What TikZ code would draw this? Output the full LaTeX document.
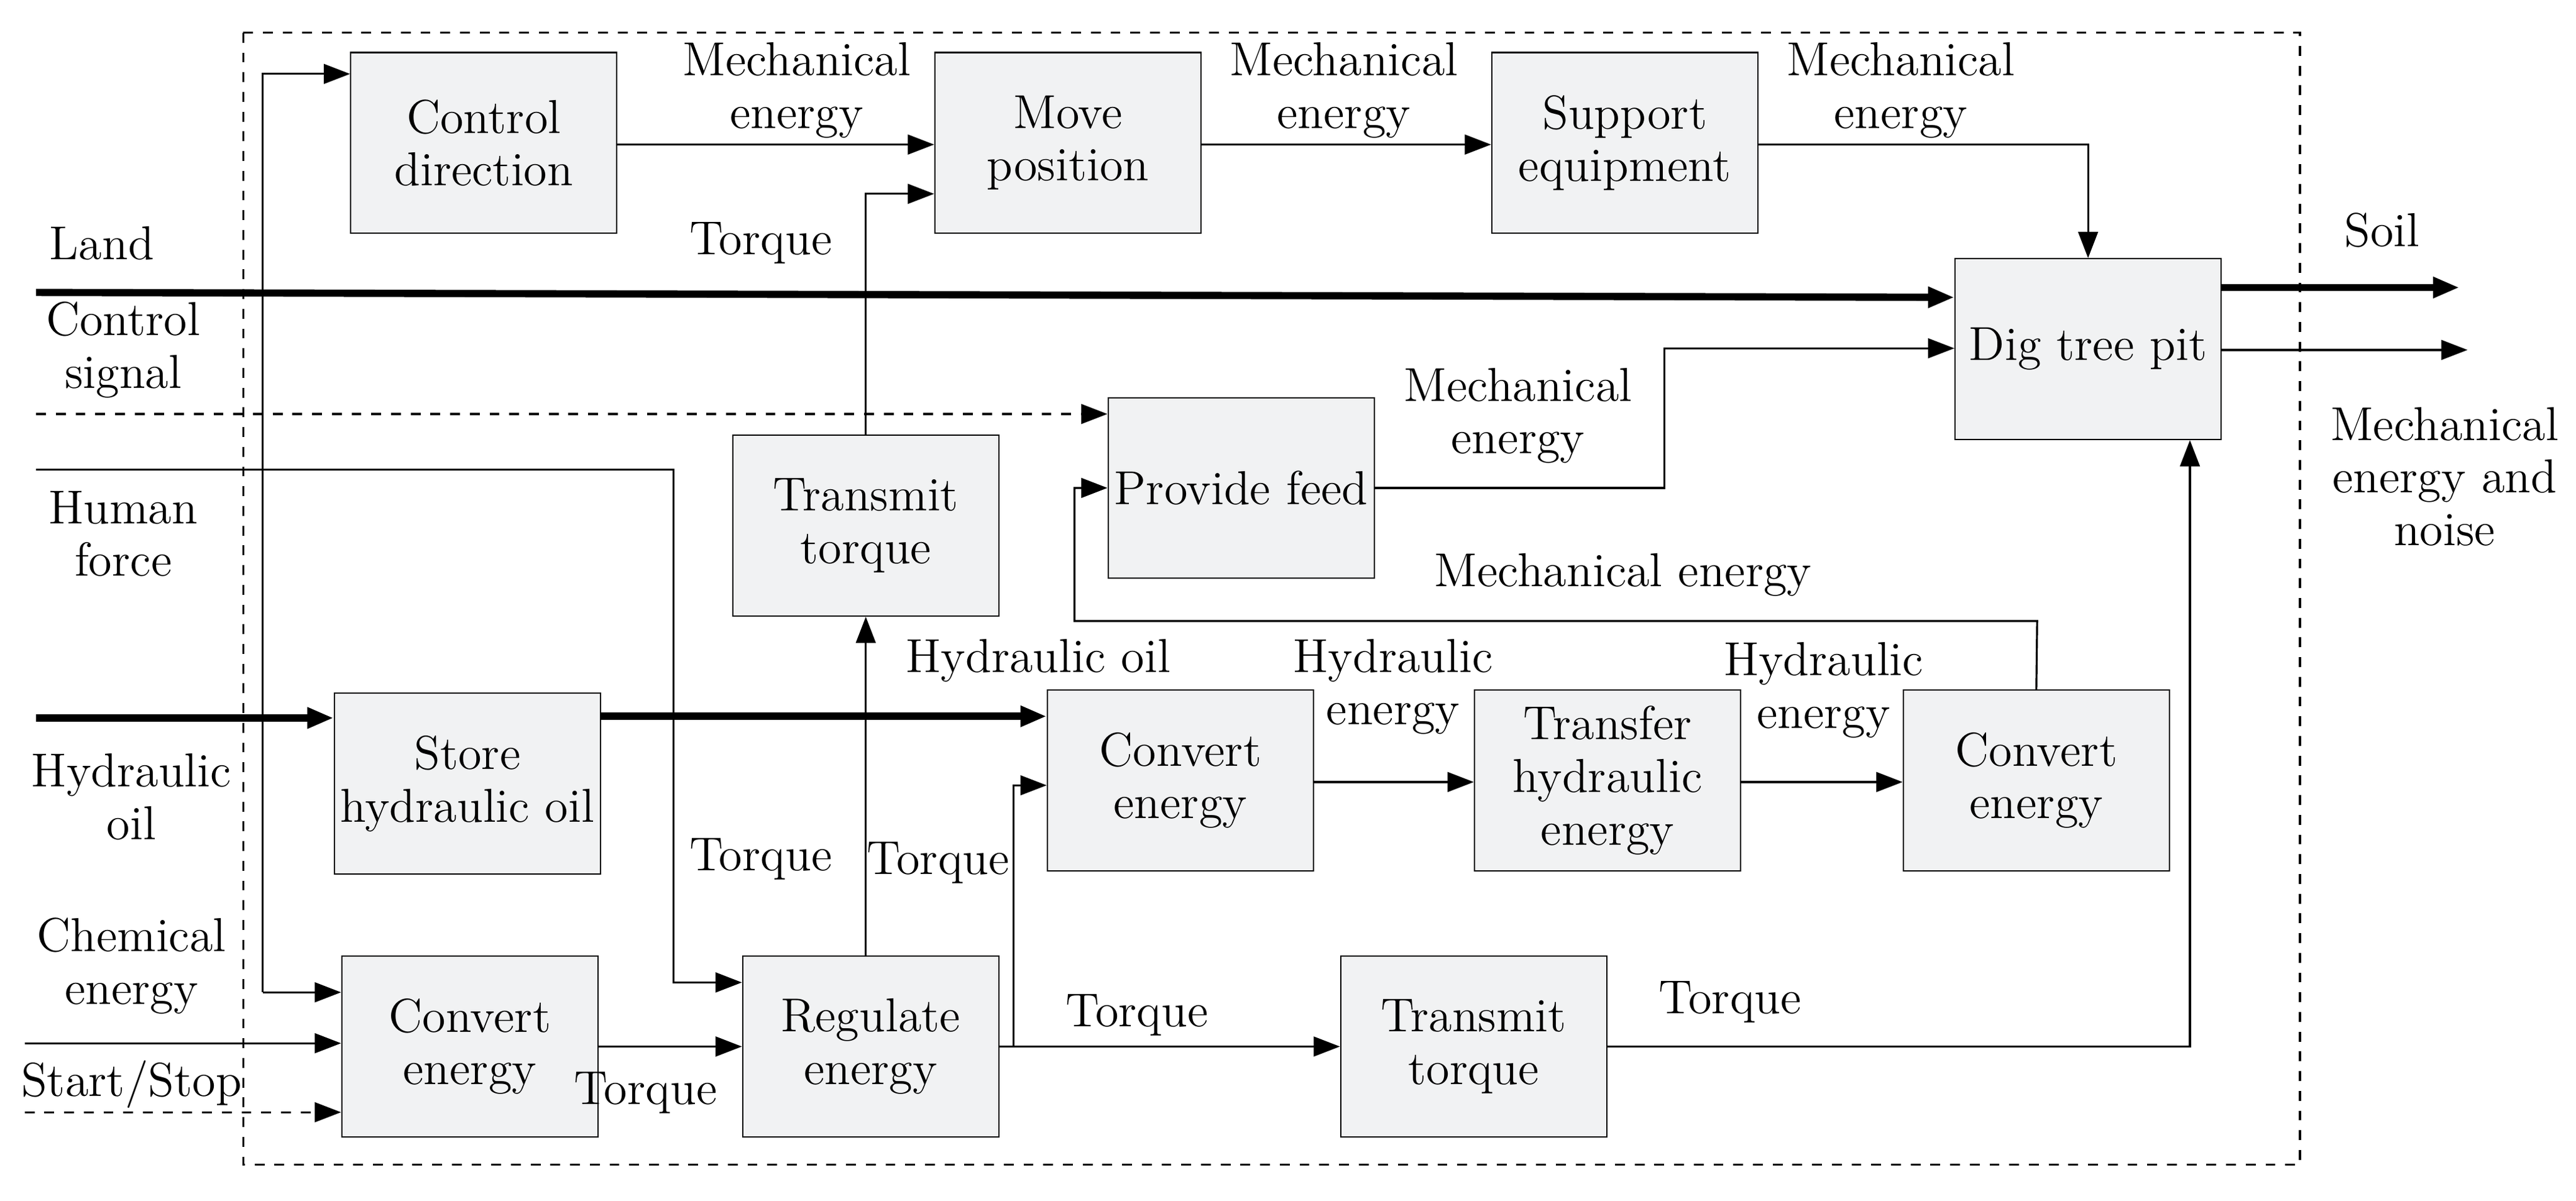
\documentclass[tikz,border=0pt]{standalone}
\usepackage{tikz}
\usetikzlibrary{arrows.meta}
\tikzset{
  blk/.style={draw, fill=cyan!8!gray!12, minimum width=81pt, minimum height=55pt, align=center, inner sep=1pt},
  lbl/.style={align=center, inner sep=1pt},
  flow/.style={-{Triangle[length=8pt,width=6pt]}, line width=0.6pt},
  heavy/.style={flow, line width=2.2pt},
  sig/.style={flow, dashed}
}
\begin{document}
\begin{tikzpicture}[x=0.5pt, y=-0.5pt, font=\fontsize{14.5}{16}\selectfont]
    \useasboundingbox (0,0) rectangle (1568,731);
    \draw[dashed, line width=0.6pt] (148,20) rectangle (1400,709);

    % blocks
    \node[blk] (ctrl) at (294.5,87) {Control\\direction};
    \node[blk] (move) at (650,87) {Move\\position};
    \node[blk] (supp) at (989,87) {Support\\equipment};
    \node[blk] (dig) at (1271,212.5) {Dig tree pit};
    \node[blk] (feed) at (755.5,297) {Provide feed};
    \node[blk] (ttop) at (527,320) {Transmit\\torque};
    \node[blk] (store) at (284.5,477) {Store\\hydraulic oil};
    \node[blk] (cmid) at (718.5,475) {Convert\\energy};
    \node[blk] (trans) at (978.5,475) {Transfer\\hydraulic\\energy};
    \node[blk] (crt) at (1239.5,475) {Convert\\energy};
    \node[blk, minimum width=78pt] (cbl) at (286,637) {Convert\\energy};
    \node[blk, minimum width=78pt] (reg) at (530,637) {Regulate\\energy};
    \node[blk] (tbot) at (897,637) {Transmit\\torque};

    % free ends
    \coordinate (land) at (22,178);
    \coordinate (csig) at (22,252);
    \coordinate (hum) at (22,286);
    \coordinate (hoil) at (22,437);
    \coordinate (chem) at (15,635);
    \coordinate (ss) at (15,677);
    \coordinate (soil) at (1497,175);
    \coordinate (noise) at (1502,213);

    % inputs
    \draw[heavy] (land) -- (dig.west |- 0,181);
    \draw[sig] (csig) -- (feed.west |- 0,252);
    \draw[flow] (hum) -| (410,598) -- (reg.west |- 0,598);
    \draw[heavy] (hoil) -- (store.west |- 0,437);
    \draw[flow] (chem) -- (cbl.west |- 0,635);
    \draw[sig] (ss) -- (cbl.west |- 0,677);
    \draw[flow] (160,604) -- (160,45) -- (ctrl.west |- 0,45);
    \draw[flow] (160,604) -- (cbl.west |- 0,604);

    % internal flows
    \draw[flow] (ctrl.east |- 0,88) -- (move.west |- 0,88);
    \draw[flow] (move.east |- 0,88) -- (supp.west |- 0,88);
    \draw[flow] (supp.east |- 0,88) -| (dig.north);
    \draw[flow] (ttop.north) |- (move.west |- 0,118);
    \draw[flow] (reg.north -| ttop) -- (ttop.south);
    \draw[flow] (cbl.east) -- (reg.west);
    \draw[flow] (reg.east) -- (tbot.west);
    \draw[flow] (617,637) |- (cmid.west |- 0,478);
    \draw[heavy] (store.east |- 0,436) -- (cmid.west |- 0,436);
    \draw[flow] (cmid.east |- 0,476) -- (trans.west |- 0,476);
    \draw[flow] (trans.east |- 0,476) -- (crt.west |- 0,476);
    \draw[flow] (crt.north) -- (1240,378) -| (654,297) -- (feed.west);
    \draw[flow] (feed.east) -| (1013,212) -- (dig.west |- 0,212);
    \draw[flow] (tbot.east) -| (dig.south -| 1333,0);
    \draw[heavy] (dig.east |- 0,175) -- (soil);
    \draw[flow] (dig.east |- 0,213) -- (noise);

    % labels
    \node[lbl] (lland) at (62,148) {Land};
    \node[lbl] (lcsig) at (75,213) {Control\\signal};
    \node[lbl] (lhum) at (75,325) {Human\\force};
    \node[lbl] (lhoil) at (80,485) {Hydraulic\\oil};
    \node[lbl] (lchem) at (80,588) {Chemical\\energy};
    \node[lbl] (lss) at (80,660) {Start/Stop};
    \node[lbl] (m1) at (485,55) {Mechanical\\energy};
    \node[lbl] (m2) at (818,55) {Mechanical\\energy};
    \node[lbl] (m3) at (1157,55) {Mechanical\\energy};
    \node[lbl] (t1) at (463,148) {Torque};
    \node[lbl] (t2) at (463,523) {Torque};
    \node[lbl] (t3) at (571,525) {Torque};
    \node[lbl] (t4) at (393,665) {Torque};
    \node[lbl] (t5) at (692,618) {Torque};
    \node[lbl] (t6) at (1053,610) {Torque};
    \node[lbl] (ho) at (632,402) {Hydraulic oil};
    \node[lbl] (he1) at (848,418) {Hydraulic\\energy};
    \node[lbl] (he2) at (1110,420) {Hydraulic\\energy};
    \node[lbl] (m4) at (988,350) {Mechanical energy};
    \node[lbl] (m5) at (924,253) {Mechanical\\energy};
    \node[lbl] (lsoil) at (1450,140) {Soil};
    \node[lbl] (lnoise) at (1488,290) {Mechanical\\energy and\\noise};
\end{tikzpicture}
\end{document}
